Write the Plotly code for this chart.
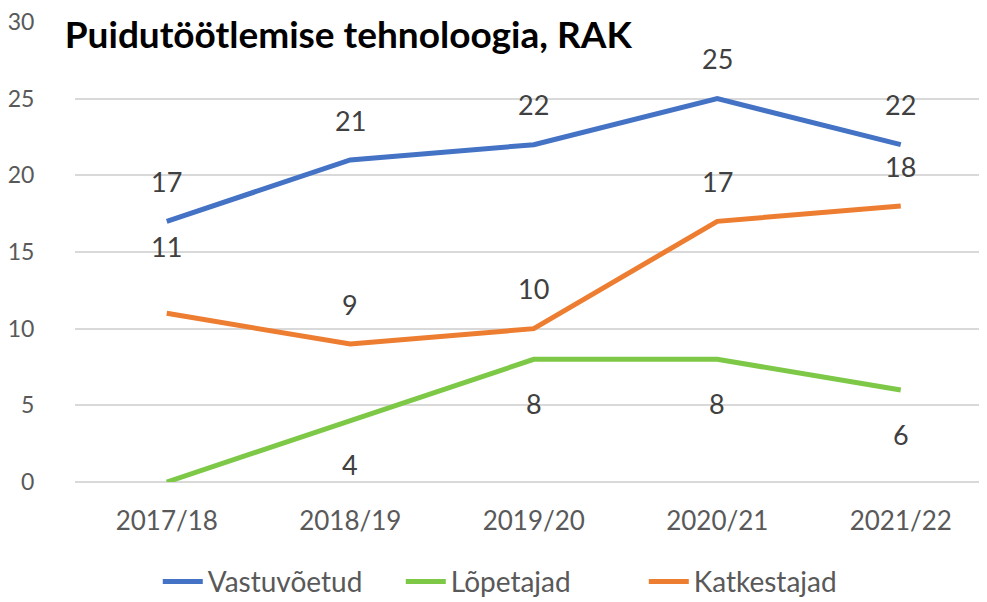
import plotly.graph_objects as go

# data
aastad = ["2017/18", "2018/19", "2019/20", "2020/21", "2021/22"]
vastuvoetud = [17, 21, 22, 25, 22]
lopetajad = [0, 4, 8, 8, 6]
katkestajad = [11, 9, 10, 17, 18]

FONT = "Lato"
TICK_COLOR = "#595959"
LABEL_COLOR = "#404040"

fig = go.Figure()

series = [
    ("Vastuvõetud", vastuvoetud, "#4472C4", 40),
    ("Lõpetajad", lopetajad, "#7DC846", -44),
    ("Katkestajad", katkestajad, "#ED7D31", 40),
]

for name, vals, color, shift in series:
    fig.add_trace(go.Scatter(
        x=aastad,
        y=vals,
        name=name,
        mode="lines",
        line=dict(color=color, width=5),
        hoverinfo="skip",
    ))
    # data labels
    for i, (x, v) in enumerate(zip(aastad, vals)):
        if v == 0:
            continue
        ys = shift
        if name == "Katkestajad" and i == 0:
            ys = 67  # label pushed up in the original
        fig.add_annotation(
            x=x, y=v, text=str(v), showarrow=False,
            yshift=ys, font=dict(family=FONT, size=27, color=LABEL_COLOR),
        )

# page body has an 8px margin, so the figure is a bit smaller than the window
fig.update_layout(
    width=979,
    height=594,
    paper_bgcolor="white",
    plot_bgcolor="white",
    margin=dict(l=67, r=0, t=14, b=120, autoexpand=False),
    title=dict(
        text="<b>Puidutöötlemise tehnoloogia, RAK</b>",
        xref="container", yref="container",
        x=0.058, xanchor="left",
        y=0.955, yanchor="middle",
        font=dict(family=FONT, size=37, color="black"),
    ),
    xaxis=dict(
        range=[-0.5, 4.47],
        automargin=False,
        showgrid=False,
        showline=False,
        zeroline=False,
        ticks="outside",
        ticklen=16,
        tickcolor="rgba(0,0,0,0)",
        tickfont=dict(family=FONT, size=26, color=TICK_COLOR),
    ),
    yaxis=dict(
        range=[0, 30],
        dtick=5,
        automargin=False,
        showgrid=True,
        gridcolor="#D9D9D9",
        gridwidth=1.5,
        zeroline=True,
        zerolinecolor="#D9D9D9",
        zerolinewidth=1.5,
        ticks="outside",
        ticklen=35,
        tickcolor="rgba(0,0,0,0)",
        ticklabeloverflow="allow",
        tickfont=dict(family=FONT, size=23, color=TICK_COLOR),
    ),
    legend=dict(
        orientation="h",
        xref="container", yref="container",
        x=0.153, xanchor="left",
        y=0.034, yanchor="middle",
        font=dict(family=FONT, size=28, color=TICK_COLOR),
        entrywidth=188,
        entrywidthmode="pixels",
        itemwidth=40,
    ),
    showlegend=True,
)

fig.write_html("out.html")
